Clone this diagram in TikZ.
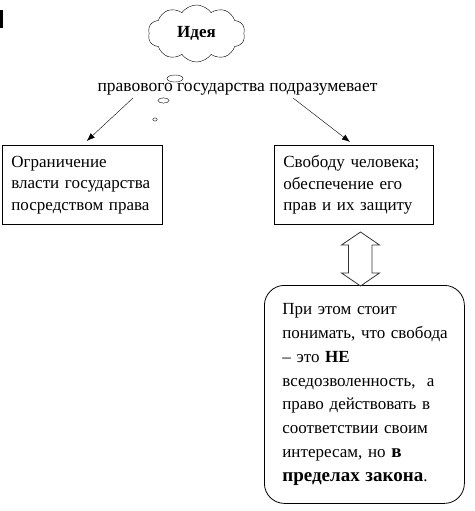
\documentclass[tikz,border=0pt]{standalone}
\usepackage{fontspec}
\setmainfont{Liberation Serif}
\usetikzlibrary{shapes.symbols,arrows.meta}

\begin{document}
\begin{tikzpicture}[x=1pt,y=-1pt,
    every node/.style={font=\fontsize{17}{21.5}\selectfont},
    box/.style={draw,line width=0.8pt,anchor=north west,align=left,inner xsep=9pt,minimum height=79pt},
    arr/.style={thin,-{Latex[length=8pt,width=6pt]}}]
      \useasboundingbox (0,0) rectangle (474,511);
      \fill (0,10) rectangle (3,28);
      % thought cloud
      \node[draw,cloud,cloud puffs=10,cloud puff arc=110,aspect=1.7,minimum width=97pt,minimum height=57pt,
            inner sep=0pt,font=\fontsize{17}{19}\selectfont\bfseries] (idea) at (196.5,33.5) {Идея};
      \node[anchor=base,font=\fontsize{17.5}{20}\selectfont] (txt) at (237.5,91.5) {правового государства подразумевает};
      \draw (175,78.5) ellipse (8 and 3.5);
      \draw (163.5,100.5) ellipse (5.5 and 2.6);
      \draw (155,119.5) ellipse (2.2 and 1.6);
      % two boxes
      \node[box,text width=142pt] (left) at (2,145) {Ограничение\\власти государства\\посредством права};
      \node[box,text width=141pt] (right) at (274,145) {Свободу человека;\\обеспечение его\\прав и их защиту};
      \coordinate (fromL) at (133,98);
      \coordinate (fromR) at (293,98);
      \draw[arr,shorten >=6pt] (fromL) -- (left.north);
      \draw[arr,shorten >=5pt] (fromR) -- (right.north);
      % note
      \node[draw,line width=0.8pt,rounded corners=20pt,anchor=north west,align=left,inner xsep=18pt,
            text width=164pt,minimum height=218pt,font=\fontsize{17}{23.8}\selectfont] (note) at (264,285)
            {При этом стоит\\\mbox{понимать, что свобода}\\– это \textbf{НЕ}\\вседозволенность, \ а\\право действовать в\\соответствии своим\\интересам, но {\fontsize{19}{23.8}\selectfont\bfseries в}\\{\fontsize{19}{23.8}\selectfont\bfseries пределах закона}.};
      \def\ax{360.5}
      \draw[line width=0.8pt,black!80] (\ax,232) -- (\ax+19,245) -- (\ax+11.5,245) -- (\ax+11.5,273) -- (\ax+19,273)
            -- (\ax,286) -- (\ax-19,273) -- (\ax-12,273) -- (\ax-12,245) -- (\ax-19,245) -- cycle;
\end{tikzpicture}
\end{document}
